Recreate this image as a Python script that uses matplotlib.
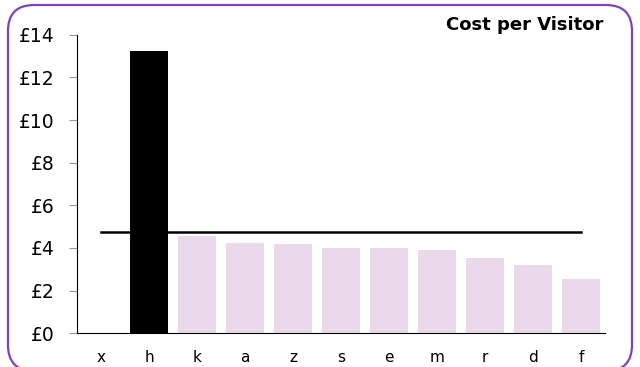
import matplotlib.pyplot as plt
from matplotlib.patches import FancyBboxPatch

# data
categories = ["x", "h", "k", "a", "z", "s", "e", "m", "r", "d", "f"]
costs = [0, 13.23, 4.58, 4.25, 4.20, 4.01, 3.98, 3.92, 3.55, 3.20, 2.55]
highlight = "h"
average = 4.73
y_ticks = [0, 2, 4, 6, 8, 10, 12, 14]

plt.rcParams["font.family"] = ["DejaVu Sans"]

fig = plt.figure(figsize=(6.4, 3.67), dpi=100)

# background axes in pixel units, for the rounded purple frame
bg = fig.add_axes([0, 0, 1, 1])
bg.set_xlim(0, 640)
bg.set_ylim(0, 367)
bg.axis("off")
frame = FancyBboxPatch((8, -4), 624, 366, boxstyle="round,pad=0,rounding_size=26",
                       facecolor="none", edgecolor="#7d45b5", linewidth=1.6, clip_on=False)
bg.add_patch(frame)

ax = fig.add_axes([77 / 640, 1 - 333.3 / 367, 528 / 640, 298.6 / 367])
ax.patch.set_alpha(0)

colors = ["#000000" if c == highlight else "#ead9ea" for c in categories]
ax.bar(categories, costs, width=0.8, color=colors)
ax.plot([0, len(categories) - 1], [average, average], color="black", linewidth=1.8)

ax.set_xlim(-0.5, len(categories) - 0.5)
ax.set_ylim(0, 14)
ax.set_yticks(y_ticks)
ax.set_yticklabels([f"£{v}" for v in y_ticks], fontsize=13.5)
ax.tick_params(axis="y", length=6, color="#999999", pad=10)
ax.tick_params(axis="x", length=0, labelsize=11, pad=12)

for side in ["top", "right"]:
    ax.spines[side].set_visible(False)

fig.text(603 / 640, 1 - 30 / 367, "Cost per Visitor", ha="right", va="baseline", fontsize=13, fontweight="bold")

fig.savefig("out.png", dpi=100)
